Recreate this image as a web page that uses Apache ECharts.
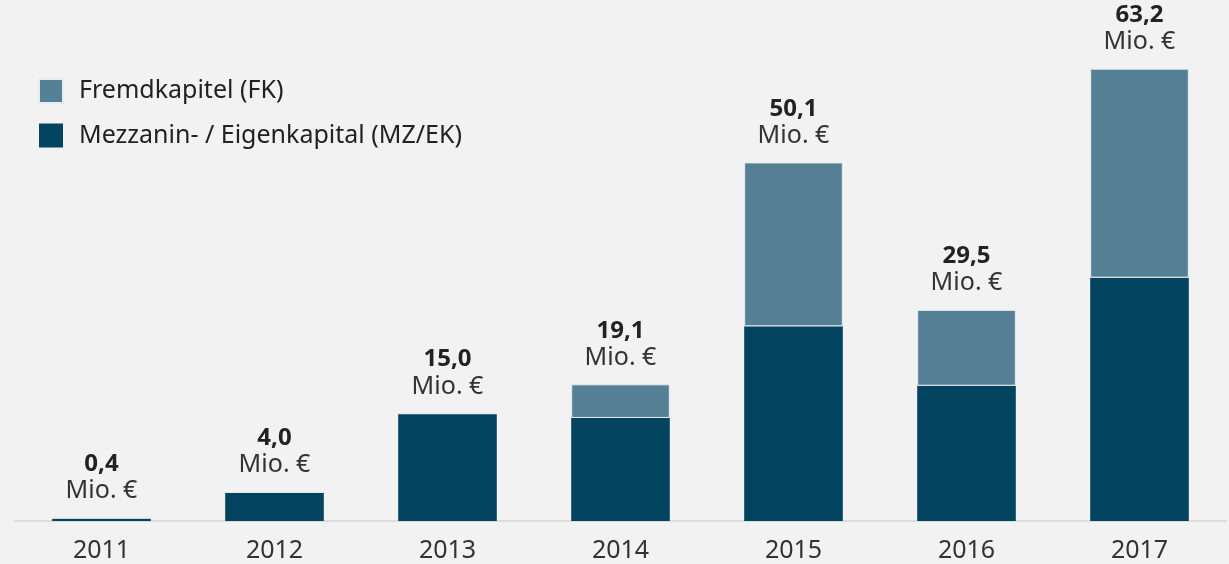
<!DOCTYPE html>
<html>
<head>
<meta charset="utf-8">
<script src="https://cdn.jsdelivr.net/npm/echarts@6/dist/echarts.min.js"></script>
<style>
  html, body { margin: 0; padding: 0; background: #f2f2f2; }
  #chart { width: 1229px; height: 564px; }
</style>
</head>
<body>
<div id="chart"></div>
<script>
// Jahre und Finanzierungsvolumen in Mio. €
var years = ['2011', '2012', '2013', '2014', '2015', '2016', '2017'];
var mzEk = [0.4, 4.0, 15.0, 14.4, 27.2, 18.9, 34.0];   // Mezzanin- / Eigenkapital
var fk = [0, 0, 0, 4.7, 22.9, 10.6, 29.2];             // Fremdkapital
var totals = ['0,4', '4,0', '15,0', '19,1', '50,1', '29,5', '63,2'];

function initChart() {
    var chart = echarts.init(document.getElementById('chart'));
    var font = '"Noto Sans", "Open Sans", sans-serif';

    var option = {
        backgroundColor: '#f2f2f2',
        animation: false,
        textStyle: { fontFamily: font },
        legend: {
            data: ['Fremdkapitel (FK)', 'Mezzanin- / Eigenkapital (MZ/EK)'],
            orient: 'vertical',
            left: 33,
            top: 73,
            itemWidth: 24,
            itemHeight: 24,
            itemGap: 19,
            icon: 'rect',
            textStyle: { fontSize: 25, color: '#222', fontFamily: font, padding: [0, 0, 0, 11] }
        },
        grid: { left: 15, right: 3, top: 20, bottom: 43 },
        xAxis: {
            type: 'category',
            data: years,
            axisLine: { lineStyle: { color: '#dcdcdc', width: 2 } },
            axisTick: { show: false },
            axisLabel: { fontSize: 25, color: '#333', margin: 17, fontFamily: font }
        },
        yAxis: {
            type: 'value',
            min: 0,
            max: 70,
            show: false,
            splitLine: { show: false }
        },
        series: [
            {
                name: 'Mezzanin- / Eigenkapital (MZ/EK)',
                type: 'bar',
                stack: 'total',
                barWidth: '57%',
                data: mzEk,
                itemStyle: { color: '#02445f' }
            },
            {
                name: 'Fremdkapitel (FK)',
                type: 'bar',
                stack: 'total',
                barWidth: '57%',
                data: fk,
                itemStyle: { color: '#547f95', borderColor: '#e6ecef', borderWidth: 1 },
                label: {
                    show: true,
                    position: 'top',
                    distance: 13,
                    formatter: function (p) {
                        return '{b|' + totals[p.dataIndex] + '}\n{n|Mio. €}';
                    },
                    rich: {
                        b: { fontSize: 24, fontWeight: 'bold', color: '#222', lineHeight: 27, fontFamily: font },
                        n: { fontSize: 25, color: '#333', lineHeight: 27, fontFamily: font }
                    }
                }
            }
        ]
    };

    chart.setOption(option);
}

initChart();
</script>
</body>
</html>
